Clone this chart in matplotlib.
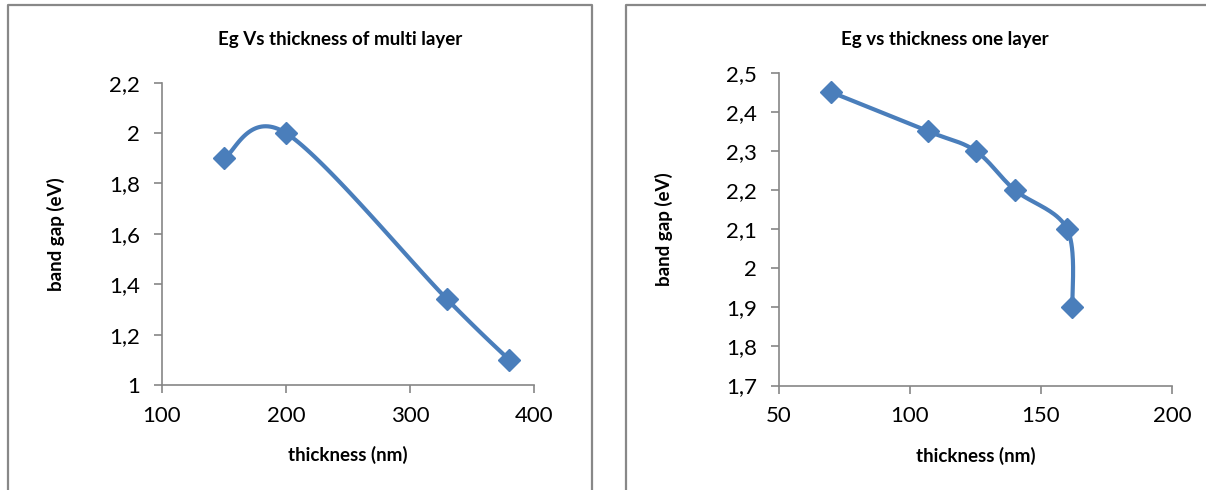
import numpy as np
import matplotlib
matplotlib.use("Agg")
import matplotlib.pyplot as plt
from matplotlib.lines import Line2D
from matplotlib.ticker import FuncFormatter

plt.rcParams['font.family'] = ['Lato', 'DejaVu Sans']

# data
multi_thickness = [150, 200, 330, 380]
multi_eg = [1.9, 2.0, 1.34, 1.1]
one_thickness = [70, 107, 125, 140, 160, 162]
one_eg = [2.45, 2.35, 2.3, 2.2, 2.1, 1.9]

blue = '#4A7EBB'
grey = '#868686'
W, H = 1206, 490


def smooth(x, y, sx, sy, n=40):
    # excel-like smoothed line: catmull-rom bezier in screen units
    px = np.asarray(x, float) * sx
    py = np.asarray(y, float) * sy
    P = np.column_stack([px, py])
    P = np.vstack([P[0], P, P[-1]])
    out = []
    t = np.linspace(0, 1, n)[:, None]
    for i in range(1, len(P) - 2):
        p0, p1, p2, p3 = P[i - 1], P[i], P[i + 1], P[i + 2]
        c1 = p1 + (p2 - p0) / 6
        c2 = p2 - (p3 - p1) / 6
        seg = ((1 - t) ** 3) * p1 + 3 * ((1 - t) ** 2) * t * c1 + 3 * (1 - t) * t ** 2 * c2 + t ** 3 * p2
        out.append(seg)
    out = np.vstack(out)
    return out[:, 0] / sx, out[:, 1] / sy


def comma(v, pos):
    s = ('%.1f' % v).rstrip('0').rstrip('.')
    return s.replace('.', ',')


fig = plt.figure(figsize=(W / 100, H / 100), dpi=100)

# panel borders
for x0, x1 in [(7.5, 592), (626, 1300)]:
    fig.add_artist(Line2D([x0 / W, x0 / W, x1 / W, x1 / W], [0, 1 - 5.5 / H, 1 - 5.5 / H, 0],
                          transform=fig.transFigure, color='#888888', lw=1.6))


def panel(rect, xs, ys, xlim, ylim, xstep, ystep, title, title_x, ylab_x, xlab_y):
    ax = fig.add_axes(rect)
    ax.set_xlim(*xlim)
    ax.set_ylim(*ylim)
    ax.set_xticks(np.arange(xlim[0], xlim[1] + 1e-9, xstep))
    ax.set_yticks(np.arange(ylim[0], ylim[1] + 1e-9, ystep))
    ax.yaxis.set_major_formatter(FuncFormatter(comma))
    for s in ['top', 'right']:
        ax.spines[s].set_visible(False)
    for s in ['left', 'bottom']:
        ax.spines[s].set_color(grey)
        ax.spines[s].set_linewidth(1.2)
    ax.tick_params(axis='both', direction='out', length=6, width=1.2, color=grey,
                   labelsize=16, labelcolor='black')
    ax.tick_params(axis='x', pad=9)
    ax.tick_params(axis='y', pad=10)

    bw = rect[2] * W
    bh = rect[3] * H
    sx = bw / (xlim[1] - xlim[0])
    sy = bh / (ylim[1] - ylim[0])
    cx, cy = smooth(xs, ys, sx, sy)
    ax.plot(cx, cy, color=blue, lw=3.0, solid_capstyle='round', clip_on=False)
    ax.plot(xs, ys, linestyle='none', marker='D', markersize=11, color=blue, clip_on=False)

    ax.set_xlabel('thickness (nm)', fontsize=13.5, fontweight='bold', va='center')
    ax.set_ylabel('band gap (eV)', fontsize=13.5, fontweight='bold', va='center')
    ax.xaxis.set_label_coords(0.5, xlab_y)
    ax.yaxis.set_label_coords(ylab_x, 0.5)
    fig.text(title_x / W, 1 - 39.5 / H, title, fontsize=13.5, fontweight='bold',
             ha='center', va='center')
    return ax


panel([162 / W, 1 - 385 / H, 372 / W, 302.3 / H], multi_thickness, multi_eg,
      (100, 400), (1.0, 2.2), 100, 0.2, 'Eg Vs thickness of multi layer', 340, -0.285, -0.233)
panel([779 / W, 1 - 385.5 / H, 393 / W, 312.8 / H], one_thickness, one_eg,
      (50, 200), (1.7, 2.5), 50, 0.1, 'Eg vs thickness one layer', 945, -0.293, -0.224)

fig.savefig('out.png', dpi=100, facecolor='white')
